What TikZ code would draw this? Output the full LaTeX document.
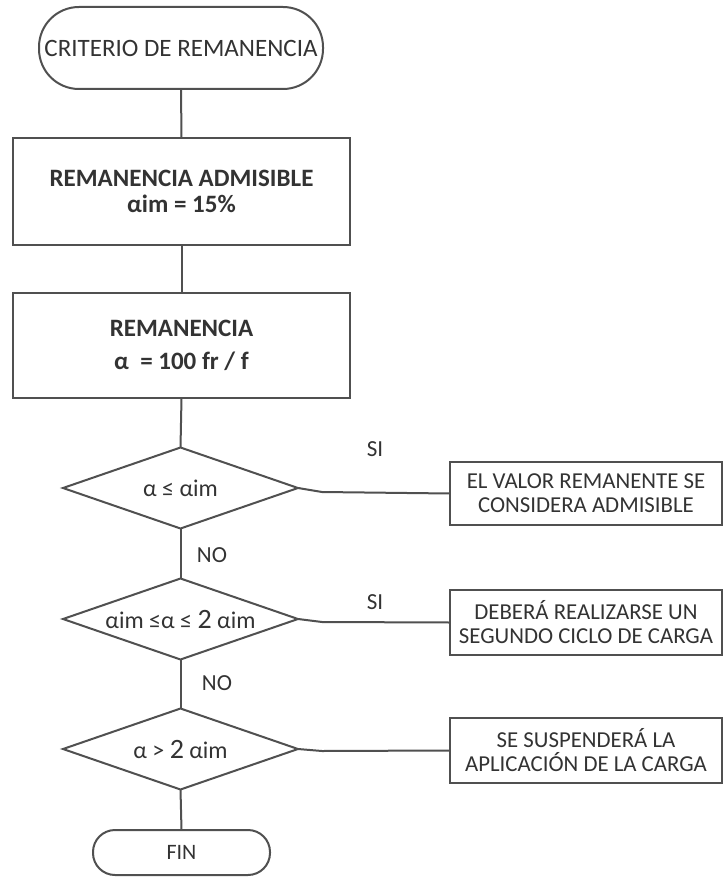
\documentclass[tikz,border=0pt]{standalone}
\usepackage{fontspec}
\setmainfont{Carlito}
\usetikzlibrary{shapes.geometric}
\definecolor{ln}{HTML}{505050}
\definecolor{tx}{HTML}{333333}
\begin{document}
\begin{tikzpicture}[x=1pt,y=-1pt,
  every node/.style={text=tx, inner sep=0pt, outer sep=0pt},
  conn/.style={draw=ln, line width=2pt},
  term/.style={draw=ln, line width=2pt, fill=white, rectangle, rounded corners=#1, align=center},
  procbox/.style={draw=ln, line width=2pt, fill=white, rectangle, align=center},
  decision/.style={draw=ln, line width=2pt, fill=white, diamond, shape aspect=2.9, minimum width=235pt, minimum height=81pt, align=center},
  lbl/.style={font=\fontsize{23}{26}\selectfont}
]
\useasboundingbox (0,0) rectangle (724,877);
% nodes
\node[term=40pt, minimum width=284pt, minimum height=82pt, font=\fontsize{25}{28}\selectfont] (start) at (181,48) {CRITERIO DE REMANENCIA};
\node[procbox, minimum width=337pt, minimum height=107pt, font=\bfseries\fontsize{25}{26}\selectfont] (b1) at (181.5,191.5) {REMANENCIA ADMISIBLE\\αim = 15\%};
\node[procbox, minimum width=337pt, minimum height=105pt, font=\bfseries\fontsize{25}{26}\selectfont] (b2) at (181.5,345.5) {REMANENCIA\\[7pt]α\ \ = 100 fr / f};
\node[decision, font=\fontsize{24}{26}\selectfont] (d1) at (180.5,488) {α ≤ αim};
\node[decision, font=\fontsize{24}{26}\selectfont] (d2) at (180.5,619) {αim ≤α ≤ {\fontsize{28}{26}\selectfont 2} αim};
\node[decision, font=\fontsize{24}{26}\selectfont] (d3) at (180.5,749) {α > {\fontsize{28}{26}\selectfont 2} αim};
\node[procbox, minimum width=272pt, minimum height=63pt, font=\fontsize{22.8}{24}\selectfont] (r1) at (586,493.5) {EL VALOR REMANENTE SE\\CONSIDERA ADMISIBLE};
\node[procbox, minimum width=272pt, minimum height=65pt, font=\fontsize{22.8}{24}\selectfont] (r2) at (586,622.5) {DEBERÁ REALIZARSE UN\\SEGUNDO CICLO DE CARGA};
\node[procbox, minimum width=272pt, minimum height=65pt, font=\fontsize{22.8}{24}\selectfont] (r3) at (586,750.5) {SE SUSPENDERÁ LA\\APLICACIÓN DE LA CARGA};
\node[term=22pt, minimum width=177pt, minimum height=45pt, font=\fontsize{22}{24}\selectfont] (fin) at (181.5,852.5) {FIN};
% labels
\node[lbl] (si1) at (375,449) {SI};
\node[lbl] (si2) at (375,602) {SI};
\node[lbl] (no1) at (212,555) {NO};
\node[lbl] (no2) at (217,683) {NO};
% connectors
\draw[conn] (start.south) -- (b1.north);
\draw[conn] (b1.south) -- (b2.north);
\draw[conn] (b2.south) -- (d1.north);
\draw[conn] (d1.south) -- (d2.north);
\draw[conn] (d2.south) -- (d3.north);
\draw[conn] (d3.south) -- (fin.north);
\draw[conn] (d1.east) -- ++(24,4) -- (r1.west);
\draw[conn] (d2.east) -- ++(24,3) -- (r2.west);
\draw[conn] (d3.east) -- ++(24,2) -- (r3.west);
\end{tikzpicture}
\end{document}
